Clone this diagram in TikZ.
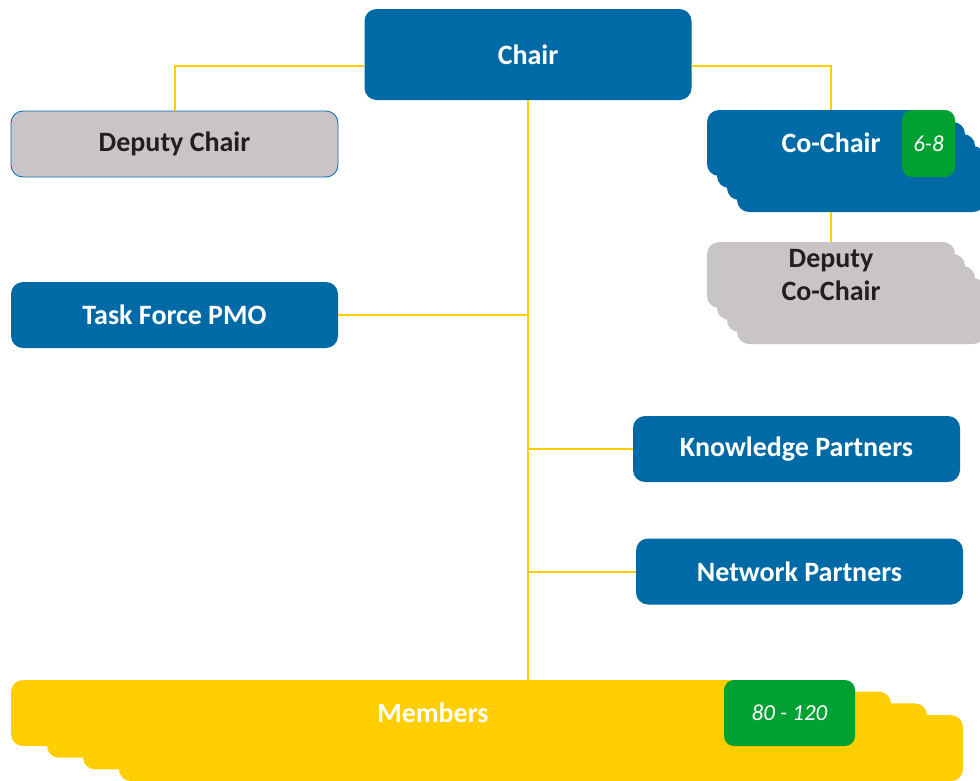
\documentclass[tikz,border=0pt]{standalone}
\usepackage{fontspec}
\setmainfont{Carlito}
\usepackage{xcolor}
\usetikzlibrary{calc}
\usetikzlibrary{positioning}

\definecolor{orgblue}{RGB}{0,106,166}
\definecolor{orggray}{RGB}{201,196,200}
\definecolor{orgyellow}{RGB}{255,206,0}
\definecolor{orggreen}{RGB}{0,160,50}
\definecolor{orgtext}{RGB}{35,31,32}

\tikzset{
  box/.style={rounded corners=12pt, inner sep=0pt, minimum width=327pt, minimum height=66pt,
    font=\fontsize{28}{33}\selectfont\bfseries, align=center},
  bluebox/.style={box, fill=orgblue, text=white},
  graybox/.style={box, fill=orggray, text=orgtext},
  badge/.style={rounded corners=10pt, inner sep=0pt, fill=orggreen, text=white,
    minimum height=66pt, font=\fontsize{23}{27}\selectfont\itshape},
  link/.style={draw=orgyellow, line width=2pt}
}

\begin{document}
\begin{tikzpicture}[x=1pt, y=-1pt]
    \useasboundingbox (0,0) rectangle (980,780);

% top
\node[bluebox, minimum height=91pt] (Chair) at (528,54.5) {Chair};
\node[graybox, draw=orgblue, line width=0.8pt] (DepChair) at (174.5,144) {Deputy Chair};
\node[bluebox] (PMO) at (174.5,315) {Task Force PMO};

% co-chair stacks
\foreach \k in {3,2,1}
  \node[bluebox, minimum width=248pt] (CoChair\k) at (831+10*\k,143+12*\k) {};
\node[bluebox, minimum width=248pt] (CoChair) at (831,143) {Co-Chair};
\node[badge, minimum width=53pt, minimum height=67pt] (CoBadge) at (928.5,143.5) {6-8};

\foreach \k in {3,2,1}
  \node[graybox, minimum width=248pt] (DepCo\k) at (831+10*\k,275+12*\k) {};
\node[graybox, minimum width=248pt] (DepCo) at (831,275) {Deputy\\Co-Chair};

% partners
\node[bluebox] (Knowledge) at (796.5,449) {Knowledge Partners};
\node[bluebox] (Network) at (799.5,571.5) {Network Partners};

% members stack
\foreach \k in {3,2,1}
  \node[box, fill=orgyellow, minimum width=844pt] (Members\k) at (433+36*\k,713+11.7*\k) {};
\node[box, fill=orgyellow, text=white, minimum width=844pt] (Members) at (433,713) {Members};
\node[badge, minimum width=131pt] (MemBadge) at (789.5,713) {80 - 120};

% connectors
\draw[link] ([yshift=-11pt]Chair.west) -| (DepChair.north);
\draw[link] ([yshift=-11pt]Chair.east) -| (CoChair.north);
\draw[link] (CoChair.south |- CoChair3.south) -- (DepCo.north);
\draw[link] (Chair.south) -- (Chair.south |- Members.north);
\foreach \n in {PMO}
  \draw[link] (\n.east) -- (\n.east -| Chair.south);
\foreach \n in {Knowledge, Network}
  \draw[link] (\n.west) -- (\n.west -| Chair.south);
\end{tikzpicture}
\end{document}
